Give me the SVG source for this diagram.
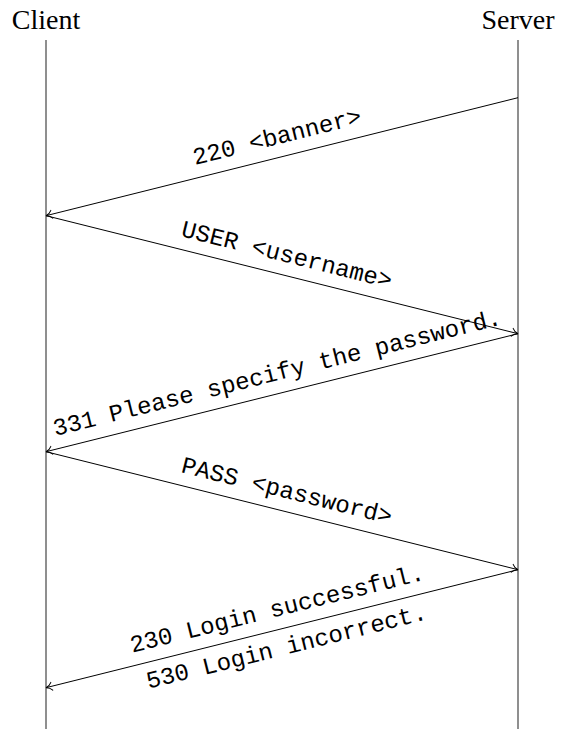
<svg xmlns="http://www.w3.org/2000/svg" width="566" height="729" viewBox="0 0 566 729">
<style>
.hdr{font-family:"Liberation Serif","Times New Roman",serif;font-size:28px;fill:#000;text-anchor:middle}
.lbl{font-family:"Liberation Mono","Courier New",monospace;font-size:24px;fill:#000;text-anchor:middle}
.life{stroke:#333;stroke-width:1.1;fill:none}
.msg{stroke:#000;stroke-width:1;fill:none;marker-end:url(#to)}
</style>
<defs>
<marker id="to" markerUnits="userSpaceOnUse" orient="auto" refX="0" refY="0" markerWidth="14" markerHeight="14" viewBox="-8 -7 10 14" overflow="visible">
<path d="M-6,-4 C-4.6,-1.8 -1.8,-0.4 0,0 C-1.8,0.4 -4.6,1.8 -6,4" fill="none" stroke="#000" stroke-width="1" stroke-linecap="round"/>
</marker>
</defs>
<rect width="566" height="729" fill="#fff"/>
<g id="client">
<text class="hdr" x="46" y="29">Client</text>
<line class="life" x1="46" y1="40" x2="46" y2="729"/>
</g>
<g id="server">
<text class="hdr" x="518" y="29">Server</text>
<line class="life" x1="518" y1="40" x2="518" y2="729"/>
</g>
<g id="connectors">
<line class="msg" x1="518" y1="97.7" x2="46" y2="215.7"/>
<line class="msg" x1="46" y1="215.7" x2="518" y2="333.7"/>
<line class="msg" x1="518" y1="333.7" x2="46" y2="451.7"/>
<line class="msg" x1="46" y1="451.7" x2="518" y2="569.7"/>
<line class="msg" x1="518" y1="569.7" x2="46" y2="687.7"/>
</g>
<g id="labels">
<text class="lbl" transform="translate(282 156.7) rotate(-14.036)" y="-13">220 &lt;banner&gt;</text>
<text class="lbl" transform="translate(282 274.7) rotate(14.036)" y="-13">USER &lt;username&gt;</text>
<text class="lbl" transform="translate(282 392.7) rotate(-14.036)" y="-13">331 Please specify the password.</text>
<text class="lbl" transform="translate(282 510.7) rotate(14.036)" y="-13">PASS &lt;password&gt;</text>
<text class="lbl" transform="translate(282 628.7) rotate(-14.036)" y="-13">230 Login successful.</text>
<text class="lbl" transform="translate(282 628.7) rotate(-14.036)" y="26">530 Login incorrect.</text>
</g>
</svg>
